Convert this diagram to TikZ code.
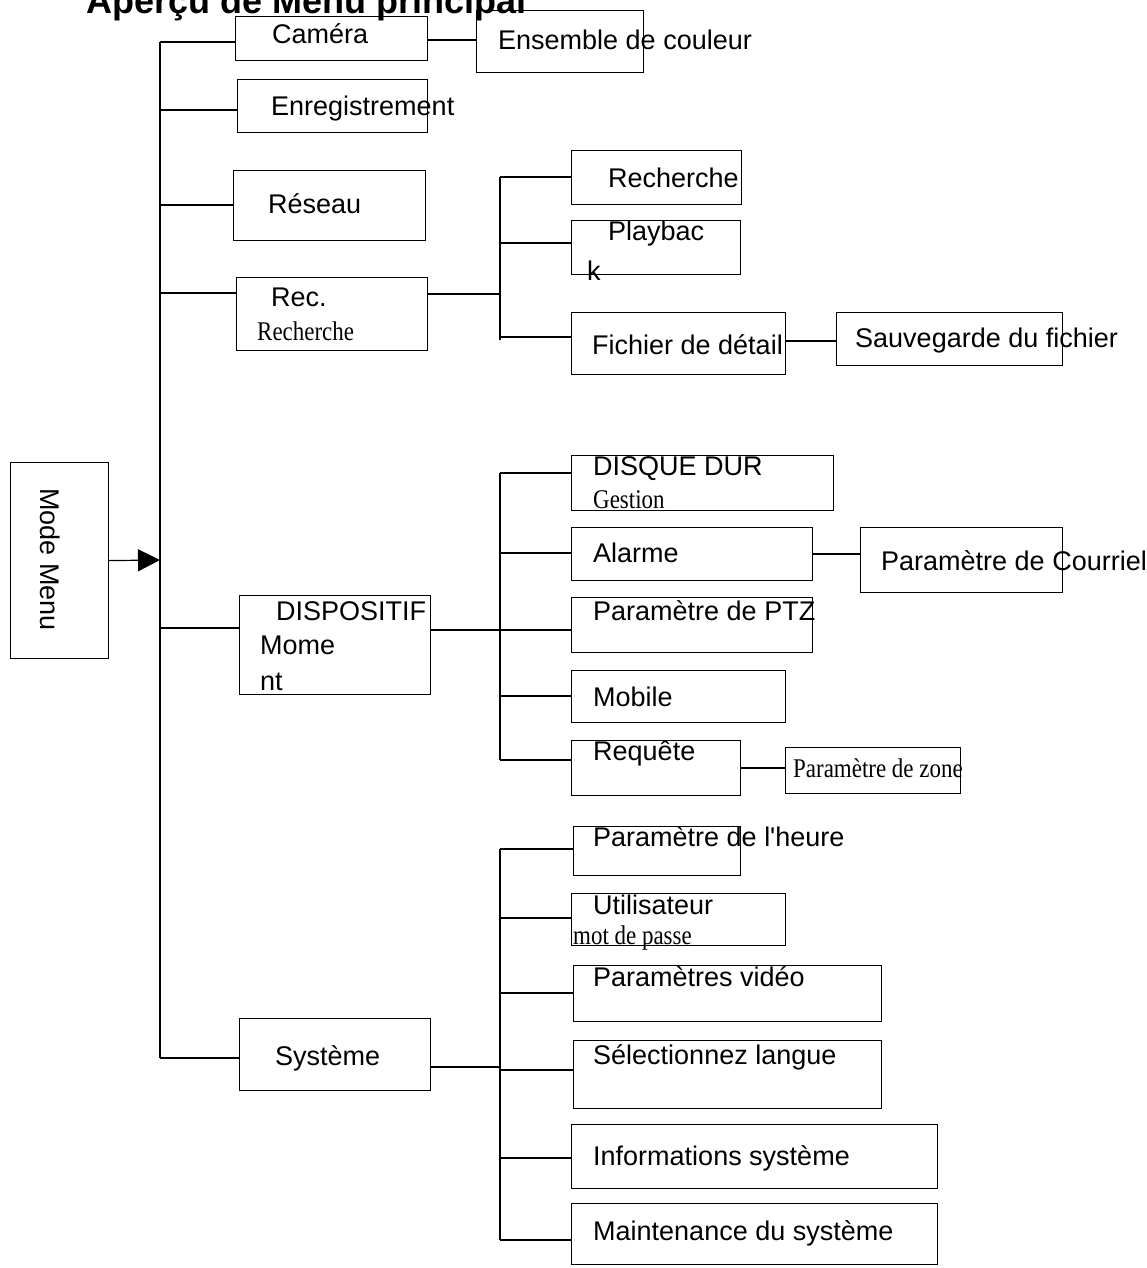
\documentclass[tikz,border=0pt]{standalone}
\usepackage{fontspec}
\setmainfont{Liberation Sans}
\newfontfamily\serifcond{Liberation Serif}[FakeStretch=0.85]
\usetikzlibrary{arrows.meta}

\tikzset{
  box/.style={draw, line width=1.2pt, inner sep=0pt},
  txt/.style={anchor=base west, inner sep=0pt, font=\fontsize{27}{30}\selectfont},
  stxt/.style={anchor=base west, inner sep=0pt, font=\serifcond\fontsize{27}{30}\selectfont},
  link/.style={line width=1.2pt}
}
% box from left,top to right,bottom (y downwards)
\newcommand{\menubox}[5]{%
  \node[box, minimum width={#4-#2}, minimum height={#5-#3}, anchor=north west] (#1) at (#2,#3) {};}

\begin{document}
\begin{tikzpicture}[x=1pt, y=-1pt]
  \useasboundingbox (0,0) rectangle (1146,1268);
  \clip (0,0) rectangle (1146,1268);
  % title
  \node[anchor=base east, inner sep=0pt, font=\bfseries\fontsize{36}{40}\selectfont] (title) at (527,14) {Aperçu de Menu principal};
  % first level
  \menubox{menu}{10}{462}{108}{658}
  \menubox{cam}{235}{16}{427}{60}
  \menubox{enr}{237}{79}{427}{132}
  \menubox{res}{233}{170}{425}{240}
  \menubox{rec}{236}{277}{427}{350}
  \menubox{dev}{239}{595}{430}{694}
  \menubox{sys}{239}{1018}{430}{1090}
  % second level
  \menubox{coul}{476}{10}{643}{72}
  \menubox{rech}{571}{150}{741}{204}
  \menubox{play}{571}{220}{740}{274}
  \menubox{fich}{571}{312}{785}{374}
  \menubox{sauv}{836}{312}{1062}{365}
  \menubox{disq}{571}{455}{833}{510}
  \menubox{alar}{571}{527}{812}{580}
  \menubox{cour}{860}{527}{1062}{592}
  \menubox{ptz}{571}{597}{812}{652}
  \menubox{mob}{571}{670}{785}{722}
  \menubox{req}{571}{740}{740}{795}
  \menubox{zone}{785}{747}{960}{793}
  \menubox{heur}{573}{826}{740}{875}
  \menubox{util}{571}{893}{785}{945}
  \menubox{vid}{573}{965}{881}{1021}
  \menubox{lang}{573}{1040}{881}{1108}
  \menubox{info}{571}{1124}{937}{1188}
  \menubox{main}{571}{1203}{937}{1264}
  % texts
  \node[rotate=-90, anchor=north west, inner sep=0pt, font=\fontsize{27}{30}\selectfont] (menut) at (60,488) {Mode Menu};
  \node[txt] (camt) at (272,44) {Caméra};
  \node[txt] (enrt) at (271,116) {Enregistrement};
  \node[txt] (rest) at (268,214) {Réseau};
  \node[txt] (rect) at (271,306) {Rec.};
  \node[stxt] (recs) at (257,340) {Recherche};
  \node[txt] (devt) at (276,620) {DISPOSITIF};
  \node[txt] (devm) at (260,654) {Mome};
  \node[txt] (devn) at (260,690) {nt};
  \node[txt] (syst) at (275,1065) {Système};
  \node[txt] (coult) at (498,50) {Ensemble de couleur};
  \node[txt] (recht) at (608,188) {Recherche};
  \node[txt] (playt) at (608,240) {Playbac};
  \node[txt] (playk) at (587,280) {k};
  \node[txt] (ficht) at (592,354) {Fichier de détail};
  \node[txt] (sauvt) at (855,347) {Sauvegarde du fichier};
  \node[txt] (disqt) at (593,475) {DISQUE DUR};
  \node[stxt] (disqg) at (593,508) {Gestion};
  \node[txt] (alart) at (593,562) {Alarme};
  \node[txt] (court) at (881,570) {Paramètre de Courriel};
  \node[txt] (ptzt) at (593,620) {Paramètre de PTZ};
  \node[txt] (mobt) at (593,706) {Mobile};
  \node[txt] (reqt) at (593,760) {Requête};
  \node[stxt] (zonet) at (793,777) {Paramètre de zone};
  \node[txt] (heurt) at (593,846) {Paramètre de l\textquotesingle heure};
  \node[txt] (utilt) at (593,914) {Utilisateur};
  \node[stxt] (utilm) at (573,944) {mot de passe};
  \node[txt] (vidt) at (593,986) {Paramètres vidéo};
  \node[txt] (langt) at (593,1064) {Sélectionnez langue};
  \node[txt] (infot) at (593,1165) {Informations système};
  \node[txt] (maint) at (593,1240) {Maintenance du système};
  % trunks
  \coordinate (t1) at (160,42);
  \coordinate (t2) at (160,1058);
  \draw[link] (t1) -- (t2);
  \foreach \b/\y in {cam/42, enr/110, res/205, rec/293, dev/628, sys/1058}
    \draw[link] (160,\y) -- (\b.west |- 0,\y);
  \draw[-{Triangle[length=22pt,width=22pt]}, line width=1.2pt] (menu.east) -- (160,560);
  \draw[link] (cam.east |- 0,40) -- (coul.west |- 0,40);
  % Rec. Recherche branch
  \draw[link] (rec.east |- 0,294) -- (500,294);
  \draw[link] (500,177) -- (500,340);
  \foreach \b/\y in {rech/177, play/243, fich/337}
    \draw[link] (500,\y) -- (\b.west |- 0,\y);
  \draw[link] (fich.east |- 0,341) -- (sauv.west |- 0,341);
  % DISPOSITIF branch
  \draw[link] (dev.east |- 0,630) -- (500,630);
  \draw[link] (500,473) -- (500,760);
  \foreach \b/\y in {disq/473, alar/553, ptz/630, mob/696, req/760}
    \draw[link] (500,\y) -- (\b.west |- 0,\y);
  \draw[link] (alar.east |- 0,554) -- (cour.west |- 0,554);
  \draw[link] (req.east |- 0,768) -- (zone.west |- 0,768);
  % Systeme branch
  \draw[link] (sys.east |- 0,1067) -- (500,1067);
  \draw[link] (500,849) -- (500,1240);
  \foreach \b/\y in {heur/849, util/918, vid/993, lang/1070, info/1158, main/1240}
    \draw[link] (500,\y) -- (\b.west |- 0,\y);
\end{tikzpicture}
\end{document}
